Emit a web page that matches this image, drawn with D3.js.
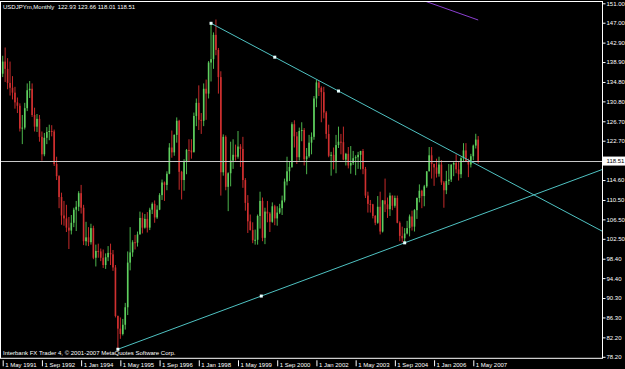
<!DOCTYPE html>
<html><head><meta charset="utf-8">
<script src="https://cdn.jsdelivr.net/npm/d3@7"></script>
<style>
html,body{margin:0;padding:0;background:#000;}
svg{display:block;}
text{font-family:"Liberation Sans",Arial,sans-serif;}
</style></head><body>
<svg id="c" width="625" height="369"></svg>
<script>
// Monthly USDJPY candles, [open, high, low, close], from May 1991
const y1991 = [[136.5,140.2,135.8,139.0],[139.0,141.9,134.8,137.5],[137.5,139.7,133.3,134.6],[134.6,139.0,132.0,133.6],[133.6,136.0,131.2,132.6],[132.6,133.8,129.3,130.6],[130.6,131.6,128.4,129.9],[129.9,130.4,124.6,125.2]];
const y1992 = [[125.2,128.0,122.0,125.4],[125.4,130.5,125.0,129.4],[129.4,134.5,128.8,133.1],[133.1,135.0,131.5,133.4],[133.4,134.5,127.6,128.0],[128.0,129.5,124.6,125.6],[125.6,128.2,124.5,127.2],[127.2,128.0,122.5,123.5],[123.5,124.6,118.6,119.9],[119.9,124.3,119.5,123.3],[123.3,125.5,122.0,124.5],[124.5,126.0,122.8,124.7]];
const y1993 = [[124.7,125.9,123.6,124.6],[124.6,125.0,117.5,117.9],[117.9,119.4,114.6,115.4],[115.4,115.6,108.8,111.1],[111.1,112.0,105.4,107.3],[107.3,110.3,105.2,106.7],[106.7,109.5,103.9,104.8],[104.8,107.0,100.4,104.2],[104.2,107.4,103.4,105.8],[105.8,108.9,104.9,108.5],[108.5,110.3,104.1,109.1],[109.1,112.3,108.2,111.9]];
const y1994 = [[111.9,113.6,107.7,108.9],[108.9,109.5,101.2,102.0],[102.0,106.0,101.1,102.8],[102.8,104.9,101.0,101.8],[101.8,105.6,101.3,104.7],[104.7,105.2,98.3,98.6],[98.6,101.3,96.8,100.0],[100.0,101.5,98.6,99.9],[99.9,100.5,97.9,98.6],[98.6,100.3,96.5,97.1],[97.1,99.5,96.3,98.7],[98.7,101.0,97.9,99.6]];
const y1995 = [[99.6,101.5,97.1,99.3],[99.3,100.2,95.9,96.6],[96.6,97.1,86.3,86.6],[86.6,86.7,79.75,84.0],[84.0,86.3,81.9,82.9],[82.9,86.0,82.6,84.8],[84.8,89.3,83.8,88.4],[88.4,99.9,86.8,97.6],[97.6,104.9,96.0,99.7],[99.7,102.2,98.8,101.8],[101.8,103.3,100.3,101.7],[101.7,104.0,100.9,103.4]];
const y1996 = [[103.4,108.1,103.4,106.8],[106.8,107.9,103.6,104.8],[104.8,107.6,104.6,106.6],[106.6,108.0,103.8,104.8],[104.8,108.9,104.3,108.5],[108.5,110.0,107.6,109.7],[109.7,110.4,105.8,106.9],[106.9,109.4,106.6,108.5],[108.5,111.9,108.4,111.5],[111.5,114.7,110.5,114.1],[114.1,114.3,110.3,113.6],[113.6,116.4,112.5,115.9]];
const y1997 = [[115.9,122.2,115.8,121.3],[121.3,124.8,119.2,120.3],[120.3,124.0,119.6,123.9],[123.9,127.5,122.3,126.8],[126.8,127.0,112.6,116.3],[116.3,116.5,110.6,114.6],[114.6,118.9,112.4,118.4],[118.4,121.0,115.8,120.8],[120.8,123.0,118.5,120.7],[120.7,123.0,119.0,120.3],[120.3,128.5,120.5,127.8],[127.8,131.4,125.7,130.5]];
const y1998 = [[130.5,134.1,124.9,127.0],[127.0,128.4,124.1,126.8],[126.8,134.5,125.7,133.4],[133.4,135.3,127.0,132.4],[132.4,139.1,131.4,138.8],[138.8,146.8,134.9,139.5],[139.5,145.0,137.5,144.5],[144.5,147.66,140.3,141.4],[141.4,141.8,132.4,135.8],[135.8,137.0,111.4,116.2],[116.2,124.0,115.5,123.5],[123.5,123.8,112.5,113.2]];
const y1999 = [[113.2,116.2,108.2,116.0],[116.0,122.5,113.3,118.6],[118.6,123.0,116.9,119.8],[119.8,121.9,118.6,119.4],[119.4,124.7,119.0,121.5],[121.5,122.0,117.3,121.0],[121.0,123.5,113.0,114.6],[114.6,115.0,108.3,109.9],[109.9,111.5,103.7,106.1],[106.1,107.5,104.2,104.3],[104.3,105.9,101.6,102.2],[102.2,104.4,101.3,102.3]];
const y2000 = [[102.3,107.5,101.3,107.2],[107.2,112.2,104.6,110.3],[110.3,111.0,102.0,102.7],[102.7,108.9,101.4,108.1],[108.1,110.3,105.9,107.7],[107.7,108.0,103.9,106.0],[106.0,110.0,105.8,109.2],[109.2,109.5,105.3,106.7],[106.7,109.2,105.2,107.9],[107.9,109.7,107.6,108.8],[108.8,111.4,107.4,110.4],[110.4,114.9,110.0,114.3]];
const y2001 = [[114.3,119.4,113.5,116.4],[116.4,118.5,114.4,117.3],[117.3,126.5,117.1,126.1],[126.1,126.9,121.3,123.6],[123.6,124.5,117.9,119.3],[119.3,125.4,118.6,124.7],[124.7,126.5,122.6,124.9],[124.9,125.3,117.6,118.9],[118.9,121.2,115.8,119.5],[119.5,123.9,119.2,122.3],[122.3,124.4,119.9,123.5],[123.5,131.9,122.9,131.4]];
const y2002 = [[131.4,135.2,129.6,134.7],[134.7,135.0,131.9,133.6],[133.6,133.9,126.5,132.7],[132.7,133.8,127.3,128.5],[128.5,128.8,123.1,124.1],[124.1,126.0,119.3,119.6],[119.6,120.4,115.5,119.8],[119.8,121.3,116.8,118.4],[118.4,123.9,116.0,121.8],[121.8,125.6,121.2,122.5],[122.5,124.1,119.9,122.4],[122.4,125.6,118.7,118.8]];
const y2003 = [[118.8,120.2,117.6,120.0],[120.0,121.4,117.0,117.6],[117.6,121.6,115.9,118.1],[118.1,120.6,117.7,119.1],[119.1,119.7,115.6,119.3],[119.3,120.4,116.9,119.8],[119.8,120.6,116.8,120.6],[120.6,121.0,115.8,116.9],[116.9,117.3,110.9,111.4],[111.4,112.2,107.9,109.7],[109.7,110.5,107.9,109.6],[109.6,109.7,106.7,107.2]];
const y2004 = [[107.2,107.4,105.3,105.8],[105.8,111.3,105.6,109.1],[109.1,112.2,103.4,104.0],[104.0,110.5,103.8,110.4],[110.4,114.9,108.0,109.6],[109.6,111.0,106.8,108.6],[108.6,112.0,107.2,111.4],[111.4,111.4,108.4,109.3],[109.3,111.4,108.9,110.9],[110.9,111.4,105.7,105.8],[105.8,106.1,102.0,103.1],[103.1,105.0,101.8,102.6]];
const y2005 = [[102.6,104.7,101.7,103.6],[103.6,106.2,103.4,104.7],[104.7,107.5,103.0,107.1],[107.1,108.3,104.2,105.0],[105.0,108.6,104.0,108.4],[108.4,111.0,106.6,110.9],[110.9,113.7,110.0,112.4],[112.4,112.6,108.8,111.3],[111.3,113.6,109.2,113.3],[113.3,116.4,113.0,116.4],[116.4,121.4,116.4,119.7],[119.7,121.4,114.9,117.9]];
const y2006 = [[117.9,118.0,113.4,117.2],[117.2,119.0,115.1,115.9],[115.9,119.4,115.3,117.8],[117.8,118.7,113.6,114.1],[114.1,114.4,108.9,112.5],[112.5,116.5,111.7,114.4],[114.4,117.9,113.6,114.7],[114.7,117.8,114.2,117.8],[117.8,118.3,115.4,118.1],[118.1,119.9,116.0,116.8],[116.8,118.3,114.5,115.8],[115.8,119.3,115.0,119.1]];
const y2007 = [[119.1,122.2,118.3,120.7],[120.7,122.2,118.4,118.5],[118.5,119.0,115.2,117.8],[117.8,120.0,117.2,119.5],[119.5,121.9,118.7,121.7],[121.7,124.13,121.1,122.93],[122.93,123.66,118.01,118.51]];

// Axis labels
const dateTickIdx = [0,16,32,48,64,80,96,112,128,144,160,176,192];
const dateTickLabels = ["1 May 1991","1 Sep 1992","1 Jan 1994","1 May 1995","1 Sep 1996","1 Jan 1998","1 May 1999","1 Sep 2000","1 Jan 2002","1 May 2003","1 Sep 2004","1 Jan 2006","1 May 2007"];
const priceTicks = [151.00,147.00,142.90,138.90,134.80,130.80,126.70,122.70,114.60,110.50,106.50,102.50,98.40,94.40,90.30,86.30,82.20,78.20];
const bidPrice = 118.51;
const titleText = "USDJPYm,Monthly  122.93 123.66 118.01 118.51";
const copyrightText = "Interbank FX Trader 4, \u00a9 2001-2007 MetaQuotes Software Corp.";

// Trend lines: [monthIndex, price]
const resistanceLine = [[85,146.88],[137,132.93]];
const supportLine = [[47,79.75],[164,101.67]];
const purpleLine = [[172,151.5],[194,147.56]];

const candles = [].concat(y1991,y1992,y1993,y1994,y1995,y1996,y1997,y1998,y1999,y2000,y2001,y2002,y2003,y2004,y2005,y2006,y2007)
  .map((d,i)=>({i,o:d[0],h:d[1],l:d[2],c:d[3]}));

const svg = d3.select("#c");
svg.append("rect").attr("width",625).attr("height",369).attr("fill","#000");

const x = d3.scaleLinear().domain([0,192]).range([2.7,473.3]);
const y = d3.scaleLinear().domain([78.2,151]).range([356.8,3.3]);
const plotL=1, plotR=602.5, plotT=1.5, plotB=358.3;
const xMaxIdx = x.invert(plotR);

svg.append("clipPath").attr("id","clip").append("rect")
  .attr("x",plotL).attr("y",plotT).attr("width",plotR-plotL).attr("height",plotB-plotT);
const plot = svg.append("g").attr("clip-path","url(#clip)");

const up="#4cb44c", down="#c42a2a";
const cg = plot.append("g");
cg.selectAll("line").data(candles).join("line")
  .attr("x1",d=>x(d.i)).attr("x2",d=>x(d.i))
  .attr("y1",d=>y(d.h)).attr("y2",d=>y(d.l))
  .attr("stroke",d=>d.c>=d.o?up:down).attr("stroke-width",1);
cg.selectAll("rect").data(candles).join("rect")
  .attr("x",d=>x(d.i)-0.8).attr("width",1.6)
  .attr("y",d=>y(Math.max(d.o,d.c)))
  .attr("height",d=>Math.max(1,Math.abs(y(d.o)-y(d.c))))
  .attr("fill",d=>d.c>=d.o?"#5fcf5f":"#d03030");

// bid line
plot.append("line").attr("x1",plotL).attr("x2",plotR)
  .attr("y1",Math.round(y(bidPrice))+0.5).attr("y2",Math.round(y(bidPrice))+0.5)
  .attr("stroke","#c8c8c8").attr("stroke-width",1);

function ray(pts){
  const [a,b]=pts; const s=(b[1]-a[1])/(b[0]-a[0]);
  return [[a[0],a[1]],[xMaxIdx+2,a[1]+s*(xMaxIdx+2-a[0])]];
}
const lineGen = d3.line().x(d=>x(d[0])).y(d=>y(d[1]));
const tl="#4fc2c2";
plot.append("path").attr("d",lineGen(ray(resistanceLine))).attr("stroke",tl).attr("fill","none").attr("stroke-width",1);
plot.append("path").attr("d",lineGen(ray(supportLine))).attr("stroke",tl).attr("fill","none").attr("stroke-width",1);
plot.append("path").attr("d",lineGen(purpleLine)).attr("stroke","#8a3fd0").attr("fill","none").attr("stroke-width",1);

[resistanceLine,supportLine].forEach(pts=>{
  const m=[(pts[0][0]+pts[1][0])/2,(pts[0][1]+pts[1][1])/2];
  [pts[0],m,pts[1]].forEach(p=>{
    plot.append("rect").attr("x",x(p[0])-1.5).attr("y",y(p[1])-1.5).attr("width",3).attr("height",3).attr("fill","#e8ffff");
  });
});

// frame
svg.append("rect").attr("x",0.5).attr("y",plotT).attr("width",plotR-0.5).attr("height",plotB-plotT)
  .attr("fill","none").attr("stroke","#ffffff").attr("stroke-width",1);

// texts
svg.append("text").attr("x",3).attr("y",9).attr("fill","#fff").attr("font-size","6px")
  .attr("xml:space","preserve").style("white-space","pre").text(titleText);
svg.append("text").attr("x",3).attr("y",355).attr("fill","#fff").attr("font-size","6px").text(copyrightText);

// x axis
const xAxis = d3.axisBottom(x).tickValues(dateTickIdx).tickFormat((d,i)=>dateTickLabels[i]).tickSize(0).tickPadding(0);
const gx = svg.append("g").attr("transform",`translate(0,${plotB})`).call(xAxis);
gx.select(".domain").remove();
gx.selectAll(".tick line").attr("y1",2).attr("y2",8).attr("stroke","#fff").attr("stroke-width",1);
gx.selectAll(".tick text").attr("text-anchor","start").attr("x",2).attr("y",8.8).attr("dy",0)
  .attr("fill","#fff").attr("font-size","6px").attr("font-family","Liberation Sans, Arial, sans-serif");

// y axis
const yAxis = d3.axisRight(y).tickValues(priceTicks).tickFormat(d=>d.toFixed(2)).tickSize(3).tickPadding(1);
const gy = svg.append("g").attr("transform",`translate(${plotR},0)`).call(yAxis);
gy.select(".domain").remove();
gy.selectAll(".tick line").attr("stroke","#fff");
gy.selectAll(".tick text").attr("fill","#fff").attr("font-size","6px").attr("font-family","Liberation Sans, Arial, sans-serif");

// bid label
const by = y(bidPrice);
svg.append("rect").attr("x",plotR+0.5).attr("y",by-4.5).attr("width",22).attr("height",9).attr("fill","#fff");
svg.append("text").attr("x",plotR+4).attr("y",by).attr("dy","0.35em").attr("fill","#000").attr("font-size","6px").text(bidPrice.toFixed(2));
</script>
</body></html>
